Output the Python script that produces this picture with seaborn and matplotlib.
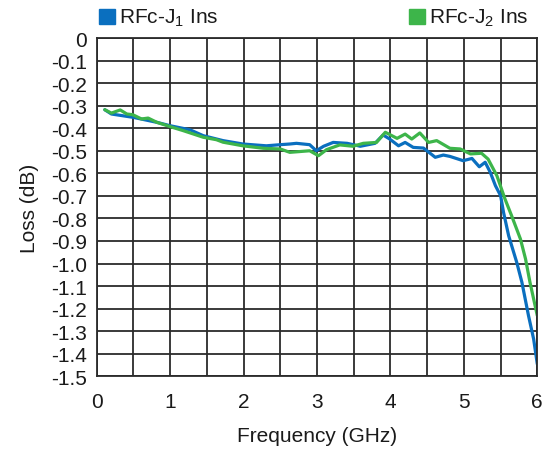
import numpy as np
import pandas as pd
import matplotlib
matplotlib.use("Agg")
import matplotlib.pyplot as plt
from matplotlib.patches import Rectangle
import seaborn as sns

# datos
freq_j1 = [0.11, 0.20, 0.50, 0.82, 1.00, 1.27, 1.45, 1.72, 1.99, 2.31, 2.50, 2.63, 2.72,
           2.90, 2.99, 3.09, 3.22, 3.41, 3.59, 3.79, 3.90, 3.99, 4.11, 4.20, 4.31, 4.45,
           4.61, 4.72, 4.81, 4.99, 5.11, 5.21, 5.29, 5.36, 5.43, 5.50, 5.54, 5.61, 5.72,
           5.79, 5.88, 5.95, 6.00]
loss_j1 = [-0.318, -0.337, -0.352, -0.374, -0.389, -0.407, -0.433, -0.455, -0.470, -0.478,
           -0.473, -0.470, -0.467, -0.473, -0.500, -0.480, -0.463, -0.467, -0.480, -0.467,
           -0.430, -0.448, -0.478, -0.463, -0.485, -0.488, -0.529, -0.519, -0.525, -0.544,
           -0.534, -0.571, -0.551, -0.596, -0.655, -0.699, -0.773, -0.877, -0.995, -1.083,
           -1.231, -1.335, -1.446]

freq_j2 = [0.11, 0.20, 0.32, 0.41, 0.49, 0.61, 0.70, 0.82, 1.00, 1.18, 1.45, 1.63, 1.72,
           1.99, 2.27, 2.50, 2.63, 2.90, 3.02, 3.13, 3.31, 3.49, 3.63, 3.81, 3.93, 4.09,
           4.20, 4.29, 4.40, 4.52, 4.63, 4.81, 4.95, 5.09, 5.24, 5.33, 5.45, 5.56, 5.65,
           5.77, 5.84, 5.90, 5.97, 6.00]
loss_j2 = [-0.318, -0.333, -0.319, -0.337, -0.340, -0.359, -0.355, -0.374, -0.393, -0.411,
           -0.440, -0.451, -0.462, -0.478, -0.489, -0.492, -0.507, -0.500, -0.522, -0.495,
           -0.474, -0.480, -0.467, -0.463, -0.418, -0.445, -0.426, -0.448, -0.421, -0.463,
           -0.455, -0.489, -0.492, -0.514, -0.511, -0.537, -0.611, -0.714, -0.788, -0.891,
           -0.980, -1.083, -1.187, -1.231]

series_names = ["RFc-J$_1$ Ins", "RFc-J$_2$ Ins"]
colors = ["#0A6FBF", "#3DB54A"]

x_ticks = [0, 1, 2, 3, 4, 5, 6]
y_ticks = [round(-0.1 * i, 1) for i in range(16)]

df = pd.concat([
    pd.DataFrame({"freq": freq_j1, "loss": loss_j1, "serie": series_names[0]}),
    pd.DataFrame({"freq": freq_j2, "loss": loss_j2, "serie": series_names[1]}),
])

sns.set_style("white")
fuente = ["Liberation Sans Narrow", "Liberation Sans", "DejaVu Sans"]
plt.rcParams["font.family"] = fuente
plt.rcParams["mathtext.fontset"] = "custom"
plt.rcParams["mathtext.rm"] = "Liberation Sans"
plt.rcParams["mathtext.it"] = "Liberation Sans"

fig = plt.figure(figsize=(5.44, 4.52), dpi=100)
ax = fig.add_axes([0.1778, 0.1653, 0.9877 - 0.1778, 0.9137 - 0.1653])

sns.lineplot(data=df, x="freq", y="loss", hue="serie", palette=colors,
             estimator=None, sort=False, linewidth=2.3, legend=False, ax=ax)
for ln in ax.lines:
    ln.set_solid_joinstyle("round")
    ln.set_solid_capstyle("round")

ax.set_xlim(0, 6)
ax.set_ylim(-1.5, 0)
ax.set_xticks(np.arange(0, 6.01, 0.5), minor=True)
ax.set_xticks(x_ticks)
ax.set_xticklabels([str(t) for t in x_ticks])
ax.set_yticks(y_ticks)
ax.set_yticklabels(["0" if t == 0 else f"{t:.1f}" for t in y_ticks])
ax.grid(True, which="both", color="#2b2b2b", linewidth=1.3)
ax.set_axisbelow(True)
ax.tick_params(axis="both", which="both", length=0, labelsize=15, colors="#1a1a1a")
ax.tick_params(axis="x", pad=11)
ax.tick_params(axis="y", pad=7)
for s in ax.spines.values():
    s.set_color("#2b2b2b")
    s.set_linewidth(1.3)

ax.set_xlabel("Frequency (GHz)", fontsize=15, color="#1a1a1a", labelpad=11)
ax.set_ylabel("Loss (dB)", fontsize=15, color="#1a1a1a", labelpad=9)

# leyenda hecha a mano arriba
W, H = 544, 452
for (x0, name, c) in [(99, series_names[0], colors[0]), (409, series_names[1], colors[1])]:
    fig.patches.append(Rectangle((x0 / W, 1 - 25 / H), 16 / W, 15 / H,
                                 transform=fig.transFigure, color=c))
    fig.text((x0 + 20) / W, 1 - 18 / H, name, fontsize=15, color="#1a1a1a",
             va="center", ha="left")

fig.savefig("out.png", dpi=100)
